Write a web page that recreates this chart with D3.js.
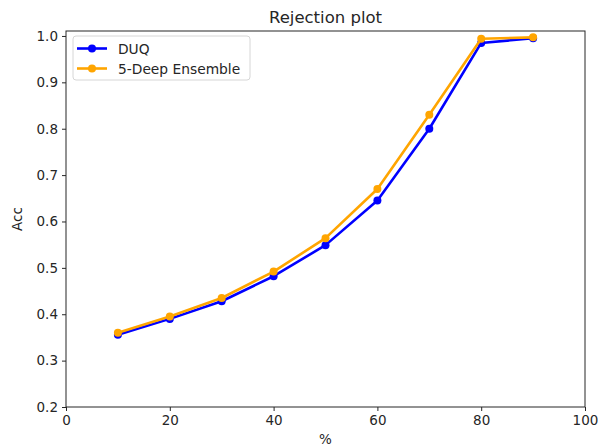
<!DOCTYPE html>
<html>
<head>
<meta charset="utf-8">
<script src="https://cdn.jsdelivr.net/npm/d3@7"></script>
<style>
  body { margin: 0; background: #fff; }
  text { font-family: "DejaVu Sans", sans-serif; fill: #262626; }
</style>
</head>
<body>
<svg id="chart" width="598" height="446"></svg>
<script>
// data
var percents = [10, 20, 30, 40, 50, 60, 70, 80, 90];
var duq = [0.356, 0.390, 0.428, 0.482, 0.549, 0.645, 0.800, 0.985, 0.995];
var ensemble = [0.360, 0.395, 0.435, 0.492, 0.564, 0.670, 0.830, 0.994, 0.997];
var xTicks = [0, 20, 40, 60, 80, 100];
var yTicks = [0.2, 0.3, 0.4, 0.5, 0.6, 0.7, 0.8, 0.9, 1.0];

var svg = d3.select("#chart");
var plotLeft = 66, plotRight = 585, plotTop = 31, plotBottom = 407;

var x = d3.scaleLinear().domain([0, 100]).range([plotLeft, plotRight]);
var y = d3.scaleLinear().domain([0.2, 1.0107]).range([plotBottom, plotTop]);

// axes
var xAxis = svg.append("g")
  .attr("transform", "translate(0," + plotBottom + ")")
  .call(d3.axisBottom(x).tickValues(xTicks).tickSizeOuter(0).tickSize(4).tickPadding(4));
var yAxis = svg.append("g")
  .attr("transform", "translate(" + plotLeft + ",0)")
  .call(d3.axisLeft(y).tickValues(yTicks).tickFormat(d3.format(".1f")).tickSizeOuter(0).tickSize(4).tickPadding(4));

[xAxis, yAxis].forEach(function(g) {
  g.selectAll("text").attr("font-size", "13.5px").attr("font-family", "DejaVu Sans").style("fill", "#262626");
  g.selectAll("line").attr("stroke", "#262626");
  g.select(".domain").remove();
});

// frame
svg.append("rect")
  .attr("x", plotLeft).attr("y", plotTop)
  .attr("width", plotRight - plotLeft).attr("height", plotBottom - plotTop)
  .attr("fill", "none").attr("stroke", "#262626").attr("stroke-width", 1);

// series
var series = [
  {name: "DUQ", values: duq, color: "#0000ff"},
  {name: "5-Deep Ensemble", values: ensemble, color: "#ffa500"}
];

var line = d3.line()
  .x(function(d, i) { return x(percents[i]); })
  .y(function(d) { return y(d); });

series.forEach(function(s) {
  svg.append("path")
    .datum(s.values)
    .attr("d", line)
    .attr("fill", "none")
    .attr("stroke", s.color)
    .attr("stroke-width", 2.6)
    .attr("stroke-linejoin", "round");
  svg.selectAll(null)
    .data(s.values)
    .enter().append("circle")
    .attr("cx", function(d, i) { return x(percents[i]); })
    .attr("cy", function(d) { return y(d); })
    .attr("r", 4)
    .attr("fill", s.color);
});

// title and labels
svg.append("text")
  .attr("x", (plotLeft + plotRight) / 2)
  .attr("y", 23)
  .attr("text-anchor", "middle")
  .attr("font-size", "16.5px")
  .text("Rejection plot");

svg.append("text")
  .attr("x", (plotLeft + plotRight) / 2)
  .attr("y", 444)
  .attr("text-anchor", "middle")
  .attr("font-size", "13.5px")
  .text("%");

svg.append("text")
  .attr("transform", "translate(22," + ((plotTop + plotBottom) / 2) + ") rotate(-90)")
  .attr("text-anchor", "middle")
  .attr("font-size", "13.5px")
  .text("Acc");

// legend
var legend = svg.append("g");
legend.append("rect")
  .attr("x", 73).attr("y", 36)
  .attr("width", 177).attr("height", 44)
  .attr("rx", 3)
  .attr("fill", "#fff").attr("fill-opacity", 0.8)
  .attr("stroke", "#d6d6d6");

series.forEach(function(s, i) {
  var ly = 48.5 + i * 20;
  legend.append("line")
    .attr("x1", 77).attr("x2", 107)
    .attr("y1", ly).attr("y2", ly)
    .attr("stroke", s.color).attr("stroke-width", 2.6);
  legend.append("circle")
    .attr("cx", 92).attr("cy", ly).attr("r", 4)
    .attr("fill", s.color);
  legend.append("text")
    .attr("x", 118).attr("y", ly + 5)
    .attr("font-size", "13.8px")
    .text(s.name);
});
</script>
</body>
</html>
